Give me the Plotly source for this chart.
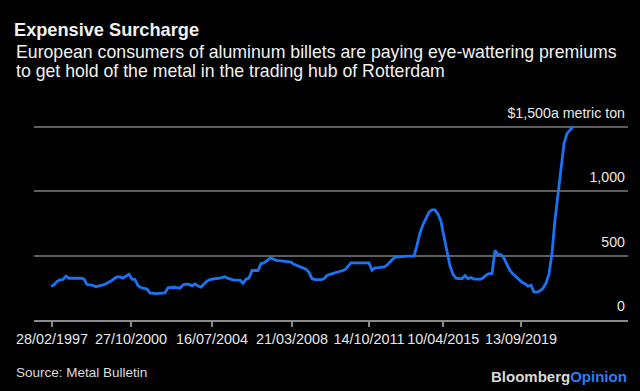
import plotly.graph_objects as go

# Premium, $ per metric ton, one value per sampling step (chart order)
premium = [
    262, 272, 300, 311, 314, 340, 324, 324, 324, 324, 324, 318, 275, 272, 269, 258, 262, 270, 277, 287,
    302, 320, 334, 335, 325, 340, 355, 317, 314, 265, 252, 246, 240, 211, 207, 205, 207, 209, 211, 250,
    254, 254, 252, 247, 273, 278, 276, 264, 280, 264, 256, 278, 302, 313, 320, 322, 324, 328, 335, 323,
    315, 309, 309, 309, 285, 316, 325, 384, 384, 384, 438, 443, 460, 482, 475, 463, 460, 458, 456, 452,
    449, 432, 423, 419, 410, 395, 370, 322, 314, 314, 314, 320, 345, 354, 360, 365, 372, 382, 389, 420,
    443, 443, 443, 443, 443, 443, 443, 386, 405, 406, 407, 412, 425, 450, 475, 488, 491, 493, 495, 495,
    495, 495, 580, 676, 740, 793, 837, 855, 855, 822, 765, 645, 520, 420, 355, 325, 322, 320, 345, 320,
    330, 318, 318, 316, 325, 348, 360, 360, 540, 508, 508, 480, 430, 385, 356, 332, 310, 292, 281, 262,
    270, 216, 216, 226, 246, 285, 355, 520, 779, 980, 1170, 1370, 1448, 1475, 1500,
]
obs = list(range(len(premium)))

# Date tick labels and the observation index where each falls
tick_labels = ["28/02/1997", "27/10/2000", "16/07/2004", "21/03/2008",
               "14/10/2011", "10/04/2015", "13/09/2019"]
tick_obs = [0.33, 26.67, 53.67, 80.33, 106.0, 130.77, 156.67]

y_ticks = [0, 500, 1000, 1500]
y_tick_labels = ["0", "500", "1,000", "$1,500a metric ton"]

FONT = "Liberation Sans, Arial, sans-serif"

fig = go.Figure()
fig.add_trace(go.Scatter(
    x=obs, y=premium, mode="lines",
    line=dict(color="#1c72f4", width=2.8),
    hoverinfo="skip", showlegend=False,
))

fig.update_layout(
    width=640, height=391,
    paper_bgcolor="black", plot_bgcolor="black",
    margin=dict(l=34, r=12, t=119, b=71, autoexpand=False),
    font=dict(family=FONT, color="#e8e8e8", size=14),
    title=dict(
        text="<b>Expensive Surcharge</b>",
        x=14 / 640, xanchor="left", xref="container",
        y=1 - 30 / 391, yanchor="middle", yref="container",
        font=dict(size=18.2, color="#f2f2f2", family=FONT),
    ),
    xaxis=dict(
        range=[-5.667, 192.33],
        tickmode="array", tickvals=tick_obs, ticktext=tick_labels,
        showgrid=False, zeroline=False,
        showline=True, linecolor="#8a8a8a", linewidth=1.5,
        ticks="outside", ticklen=5, tickcolor="#8a8a8a", tickwidth=1.5,
        tickfont=dict(size=14.4, color="#e8e8e8"),
        fixedrange=True, automargin=False,
    ),
    yaxis=dict(
        range=[0, 1560], side="right",
        tickmode="array", tickvals=y_ticks, ticktext=y_tick_labels,
        ticklabelposition="inside top", ticklabeloverflow="allow",
        ticklabelshift=-4,
        showgrid=True, gridcolor="#5e5e5e", gridwidth=1.5,
        zeroline=False, showline=False, ticks="",
        tickfont=dict(size=14.2, color="#e8e8e8"),
        fixedrange=True, automargin=False,
    ),
)

sub_lines = [
    "European consumers of aluminum billets are paying eye-wattering premiums",
    "to get hold of the metal in the trading hub of Rotterdam",
]
for i, line in enumerate(sub_lines):
    fig.add_annotation(
        text=line, xref="paper", yref="paper",
        x=(14 - 34) / 594, xanchor="left",
        y=(320 - (51.7 + 19.3 * i)) / 201, yanchor="middle",
        showarrow=False, font=dict(size=17.7, color="#f2f2f2", family=FONT),
    )

fig.add_annotation(
    text="Source: Metal Bulletin", xref="paper", yref="paper",
    x=(14 - 34) / 594, xanchor="left",
    y=(320 - 372) / 201, yanchor="middle",
    showarrow=False, font=dict(size=13.5, color="#dcdcdc", family=FONT),
)
fig.add_annotation(
    text="<b>Bloomberg<span style='color:#2c7df6'>Opinion</span></b>",
    xref="paper", yref="paper",
    x=(629 - 34) / 594, xanchor="right",
    y=(320 - 376) / 201, yanchor="middle",
    showarrow=False, font=dict(size=15, color="#d9d9d9", family=FONT),
)

fig.write_html(
    "out.html",
    config={"displayModeBar": False},
    post_script="document.body.style.margin='0';document.body.style.overflow='hidden';",
)
